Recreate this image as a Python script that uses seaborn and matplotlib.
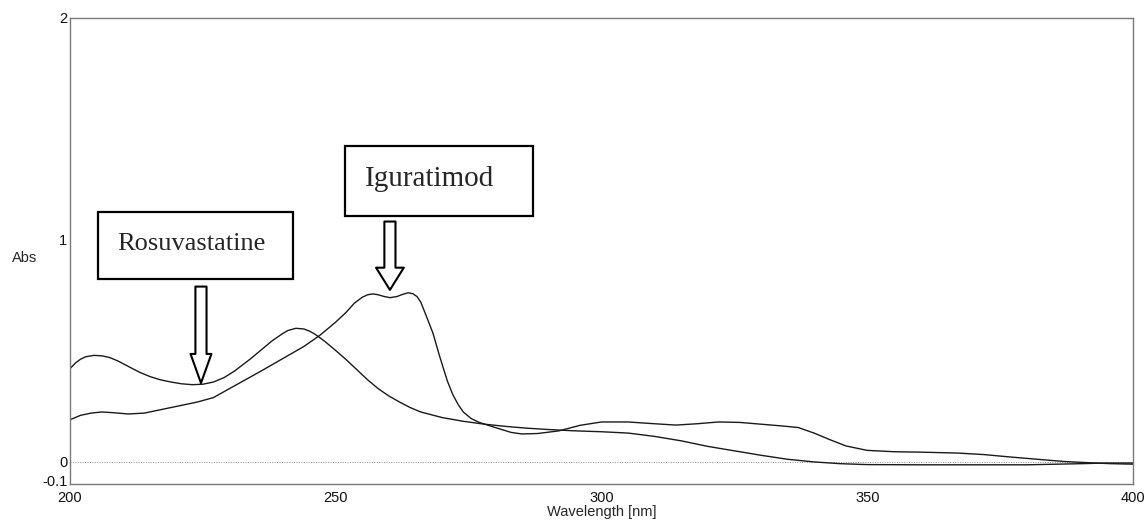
import numpy as np
import pandas as pd
import seaborn as sns
import matplotlib
matplotlib.use("Agg")
import matplotlib.pyplot as plt
from matplotlib.ticker import FixedLocator
from matplotlib.patches import Rectangle
from matplotlib.transforms import ScaledTranslation

# ---- data ----
rosu_wl = [200, 201, 202, 203, 204.5, 206, 207.5, 209, 211, 213, 215, 217, 219, 221,
           223, 225, 227, 229, 231, 234, 236, 238, 240, 241, 242.5, 244, 245, 246,
           247, 248, 250, 252, 254, 256, 258, 260, 262, 264, 266, 270, 274, 278,
           282, 286, 290, 295, 300, 305, 310, 315, 320, 325, 330, 335, 340, 345,
           350, 360, 370, 380, 390, 395, 400]
rosu_abs = [0.42, 0.445, 0.463, 0.474, 0.48, 0.478, 0.47, 0.455, 0.43, 0.405, 0.385, 0.37, 0.36, 0.352,
            0.348, 0.35, 0.36, 0.38, 0.41, 0.465, 0.505, 0.545, 0.578, 0.592, 0.602, 0.599, 0.59, 0.577,
            0.56, 0.542, 0.502, 0.46, 0.415, 0.37, 0.33, 0.297, 0.27, 0.245,
            0.225, 0.20, 0.183, 0.17, 0.16, 0.152, 0.146, 0.14, 0.136, 0.13, 0.115, 0.095, 0.07, 0.05,
            0.03, 0.012, 0.0, -0.008, -0.012, -0.013, -0.013, -0.013, -0.008, -0.005, -0.005]

igu_wl = [200, 202, 204, 206, 208, 211, 214, 217, 220, 224, 227, 230, 233, 236,
          240, 244, 247, 250, 252, 253.5, 255, 256, 257, 258, 259, 260.2, 261.5, 262.5,
          263.6, 264.5, 265.3, 266, 267, 268.3, 269.5, 271, 272, 273, 274, 275.5, 277, 280,
          283, 285, 288, 292, 296, 300, 305, 310, 314, 318, 322, 326, 330, 334,
          337, 340, 343, 346, 350, 355, 360, 367, 372, 377, 382, 387, 392, 396, 400]
igu_abs = [0.19, 0.21, 0.22, 0.225, 0.222, 0.216, 0.22, 0.235, 0.25, 0.27, 0.29, 0.33, 0.37, 0.41,
           0.465, 0.52, 0.57, 0.63, 0.675, 0.715, 0.742, 0.753, 0.757, 0.753, 0.746, 0.74, 0.745, 0.754,
           0.762, 0.758, 0.745, 0.72, 0.66, 0.58, 0.48, 0.365, 0.305, 0.26, 0.225, 0.195, 0.178, 0.155,
           0.133, 0.126, 0.128, 0.14, 0.165, 0.18, 0.18, 0.172, 0.166, 0.172, 0.18, 0.178, 0.17, 0.162,
           0.155, 0.13, 0.10, 0.072, 0.052, 0.046, 0.044, 0.04, 0.033, 0.022, 0.012, 0.002, -0.004,
           -0.008, -0.01]

labels = ["Rosuvastatine", "Iguratimod"]
x_ticks = [200, 250, 300, 350, 400]
y_ticks = [-0.1, 0, 1, 2]
y_tick_labels = ["-0.1", "0", "1", "2"]

df = pd.concat([
    pd.DataFrame({"Wavelength": rosu_wl, "Abs": rosu_abs, "Drug": labels[0]}),
    pd.DataFrame({"Wavelength": igu_wl, "Abs": igu_abs, "Drug": labels[1]}),
])

sns.set_style("white")
plt.rcParams["font.family"] = ["Liberation Sans", "DejaVu Sans"]

fig = plt.figure(figsize=(11.45, 5.2), dpi=100)
ax = fig.add_axes([0.0611, 0.0690, 0.9284, 0.8964])

sns.lineplot(data=df, x="Wavelength", y="Abs", hue="Drug", units="Drug",
             estimator=None, palette=["#1a1a1a", "#1a1a1a"], linewidth=1.0,
             legend=False, ax=ax, sort=False)

ax.axhline(0, color="#8a8a8a", ls=(0, (1, 1.5)), lw=0.7, zorder=1)

ax.set_xlim(200, 400)
ax.set_ylim(-0.1, 2)
ax.set_xticks(x_ticks)
ax.set_xticklabels([str(t) for t in x_ticks])
ax.xaxis.set_minor_locator(FixedLocator([225, 275, 325, 375]))
ax.set_yticks(y_ticks)
ax.set_yticklabels(y_tick_labels)
ax.yaxis.set_minor_locator(FixedLocator([0.5, 1.5]))

ax.tick_params(axis="both", which="major", direction="in", length=7, width=1,
               color="#777777", labelsize=10.5, labelcolor="#111111", pad=2)
ax.tick_params(axis="x", which="major", pad=5)
ax.tick_params(axis="both", which="minor", direction="in", length=4, width=1,
               color="#777777")
for spine in ax.spines.values():
    spine.set_color("#7a7a7a")
    spine.set_linewidth(1.0)

# nudge the "-0.1" label up a little so it does not collide with "200"
lab = ax.get_yticklabels()[0]
lab.set_transform(lab.get_transform() + ScaledTranslation(0, 2.5 / 72, fig.dpi_scale_trans))

ax.set_xlabel("Wavelength [nm]", fontsize=10.5, labelpad=0)
ax.set_ylabel("Abs", fontsize=10.5, rotation=0, ha="center", va="center")
ax.yaxis.set_label_coords(-0.043, 0.486)

# annotation boxes
serif = ["Liberation Serif", "DejaVu Serif"]
ax.add_patch(Rectangle((205.3, 0.822), 36.7, 0.302, fc="white", ec="black", lw=1.6, zorder=4))
ax.add_patch(Rectangle((251.7, 1.106), 35.4, 0.319, fc="white", ec="black", lw=1.6, zorder=4))
ax.text(222.9, 0.957, labels[0], family=serif, fontsize=19, ha="center", va="baseline", zorder=5)
ax.text(267.6, 1.242, labels[1], family=serif, fontsize=21, ha="center", va="baseline", zorder=5)

ax.annotate("", xy=(224.65, 0.355), xytext=(224.65, 0.79),
            arrowprops=dict(arrowstyle="simple,head_length=21,head_width=15,tail_width=8",
                            mutation_scale=1, fc="white", ec="black", lw=1.5,
                            shrinkA=0, shrinkB=0))
ax.annotate("", xy=(260.2, 0.775), xytext=(260.2, 1.083),
            arrowprops=dict(arrowstyle="simple,head_length=16,head_width=20,tail_width=8",
                            mutation_scale=1, fc="white", ec="black", lw=1.5,
                            shrinkA=0, shrinkB=0))

fig.savefig("out.png", dpi=100)
